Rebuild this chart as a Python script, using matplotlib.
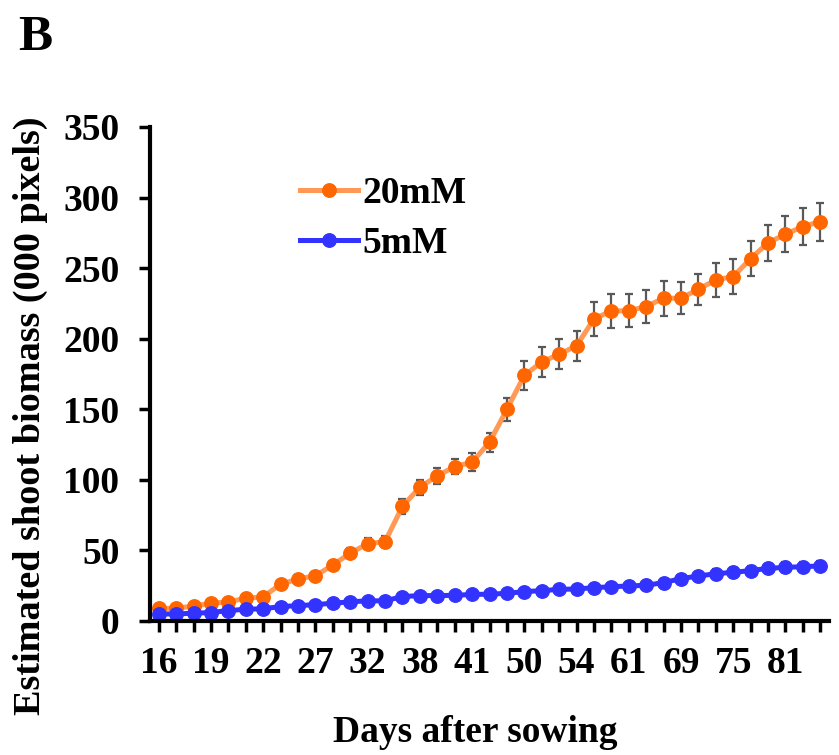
import numpy as np
from matplotlib import pyplot as plt

# dias con etiqueta (cada 3 mediciones)
day_labels = [16, 19, 22, 27, 32, 38, 41, 50, 54, 61, 69, 75, 81]

biomass_20 = [9, 9, 10.6, 12.5, 13.7, 16, 17.2, 26, 29.8, 32, 39.7, 48, 54.8, 56.2,
              81.2, 94.8, 102.8, 109.4, 112.5, 126.6, 150, 174, 183.5, 189, 195,
              214, 219.7, 219.8, 222.8, 228.7, 228.7, 235, 241.7, 244, 256.8, 268,
              274, 279.5, 283]
err_20 = [1, 1, 1, 1.5, 1.5, 2, 2, 2.5, 2.5, 3, 3, 3.5, 4, 4,
          5.2, 5.2, 5.4, 5.4, 6.5, 6.9, 8.2, 10.3, 10.9, 10.6, 10.5, 12, 11.9,
          11.7, 11.8, 12.4, 11.2, 11.1, 11.9, 12.3, 12.6, 12.9, 12.9, 12.8, 13.5]

biomass_5 = [5, 5, 5.5, 6, 7.4, 8.3, 8.7, 10.2, 10.9, 11.6, 12.6, 13.6, 14.3, 14.3,
             17.3, 18, 18, 18.2, 18.8, 19, 19.6, 20.8, 21.5, 22.4, 22.7, 23.6, 24.3,
             24.8, 25.3, 27.2, 30, 31.9, 33.5, 34.5, 35.7, 37.3, 38, 38.5, 39]
err_5 = [0.5, 0.5, 0.5, 0.6, 0.7, 0.8, 0.8, 0.9, 1, 1, 1.1, 1.2, 1.3, 1.3, 1.5,
         1.6, 1.6, 1.7, 1.7, 1.8, 1.9, 2, 2, 2.1, 2.1, 2.2, 2.3, 2.3, 2.4, 2.6,
         2.8, 3, 3.1, 3.2, 3.3, 3.4, 3.5, 3.5, 3.6]

plt.rcParams['font.family'] = 'Liberation Serif'
plt.rcParams['font.weight'] = 'bold'

fig = plt.figure(figsize=(8.39, 7.55), dpi=100)
ax = fig.add_axes([150/839, 1-621/755, 679/839, 494/755])

x = np.arange(len(biomass_20))

ax.errorbar(x, biomass_20, yerr=err_20, fmt='none', ecolor='#595959',
            elinewidth=1.6, capsize=3, capthick=1.6, zorder=1)
ax.errorbar(x, biomass_5, yerr=err_5, fmt='none', ecolor='#595959',
            elinewidth=1.6, capsize=3, capthick=1.6, zorder=1)
ax.plot(x, biomass_20, '-o', color='#FF9955', lw=3.6, ms=9.7,
        markerfacecolor='#FF6600', markeredgecolor='#FF6600', label='20mM', zorder=3)
ax.plot(x, biomass_5, '-o', color='#3333FF', lw=3.6, ms=9.7,
        markerfacecolor='#3333FF', markeredgecolor='#3333FF', label='5mM', zorder=4)

ax.set_xlim(-0.5, len(x) - 0.5)
ax.set_ylim(0, 350)
ax.set_yticks(np.arange(0, 351, 50))

labels = [''] * len(x)
for i, d in enumerate(day_labels):
    labels[i * 3] = str(d)
ax.set_xticks(x)
ax.set_xticklabels(labels)

for s in ['top', 'right']:
    ax.spines[s].set_visible(False)
for s in ['left', 'bottom']:
    ax.spines[s].set_linewidth(3)
    ax.spines[s].set_zorder(5)

ax.tick_params(axis='y', length=8, width=2.5, pad=14, labelsize=27)
ax.tick_params(axis='x', length=8, width=2.5, pad=10, labelsize=27)

ax.set_ylabel('Estimated shoot biomass (000 pixels)', fontsize=27.5, fontweight='bold')
ax.yaxis.set_label_coords(-0.15, 0.415)
ax.set_xlabel('Days after sowing', fontsize=27, fontweight='bold')
ax.xaxis.set_label_coords(0.479, -0.19)

ax.legend(loc='upper left', bbox_to_anchor=(0.221, 0.9), frameon=False,
          fontsize=27, handlelength=1.55, handletextpad=0.1, labelspacing=0.4,
          borderpad=0, borderaxespad=0)

fig.text(18/839, 1-50/755, 'B', fontsize=37, fontweight='bold')

plt.savefig('out.png', dpi=100)
